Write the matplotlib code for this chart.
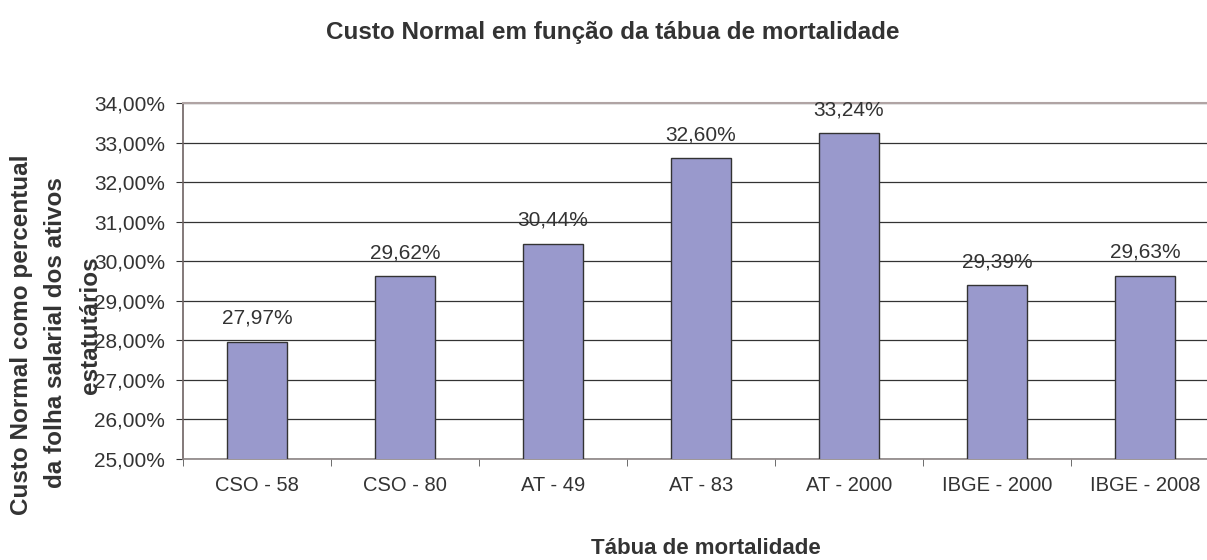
import matplotlib
matplotlib.use("Agg")
import matplotlib.pyplot as plt
import numpy as np

plt.rcParams['font.family'] = ['Liberation Sans', 'DejaVu Sans']

tabuas = ["CSO - 58", "CSO - 80", "AT - 49", "AT - 83", "AT - 2000", "IBGE - 2000", "IBGE - 2008"]
custo = [27.97, 29.62, 30.44, 32.60, 33.24, 29.39, 29.63]
yticks = [25, 26, 27, 28, 29, 30, 31, 32, 33, 34]

txt = "#333333"
fig = plt.figure(figsize=(12.07, 5.6), dpi=100)
ax = fig.add_axes([183 / 1207, 1 - 459 / 560, 1036 / 1207, 356 / 560])

x = np.arange(len(tabuas))
ax.bar(x, custo, width=0.405, color="#9999CC", edgecolor="#333333", linewidth=1.0, zorder=3)
ax.set_ylim(25, 34)
ax.set_xlim(-0.5, len(tabuas) - 0.5)

for xi, v in zip(x, custo):
    ax.annotate(f"{v:.2f}%".replace(".", ","), (xi, v), xytext=(0, 10), textcoords="offset points",
                ha="center", va="bottom", fontsize=15, color=txt)

ax.set_yticks(yticks)
ax.set_yticklabels([f"{t:.2f}%".replace(".", ",") for t in yticks], fontsize=15, color=txt)
ax.yaxis.grid(True, color="#333333", linewidth=0.9)
ax.set_axisbelow(True)

ax.set_xticks(x)
ax.set_xticklabels(tabuas, fontsize=14.5, color=txt)
ax.set_xticks(np.arange(len(tabuas) + 1) - 0.5, minor=True)
ax.tick_params(axis="x", which="major", length=0, pad=12)
ax.tick_params(axis="x", which="minor", length=5, color="#555555", direction="out")
ax.tick_params(axis="y", length=5, color="#333333", pad=8)

ax.spines["top"].set_color("#b0a4a4")
ax.spines["top"].set_linewidth(1.5)
ax.spines["left"].set_color("#6e6262")
ax.spines["left"].set_linewidth(1.2)
ax.spines["bottom"].set_color("#8c8484")
ax.spines["bottom"].set_linewidth(1.2)
ax.spines["right"].set_visible(False)

fig.text(613 / 1207, 1 - 32 / 560, "Custo Normal em função da tábua de mortalidade",
         ha="center", va="center", fontsize=17.5, fontweight="bold", color=txt)
fig.text(706 / 1207, 1 - 548 / 560, "Tábua de mortalidade",
         ha="center", va="center", fontsize=16, fontweight="bold", color=txt)

ylab = ["Custo Normal como percentual", "da folha salarial dos ativos", "estatutários"]
for xp, yp, line in zip([22, 55, 90], [335, 333, 325], ylab):
    fig.text(xp / 1207, 1 - yp / 560, line, rotation=90, ha="center", va="center",
             fontsize=17.5, fontweight="bold", color=txt)

fig.savefig("out.png", dpi=100)
